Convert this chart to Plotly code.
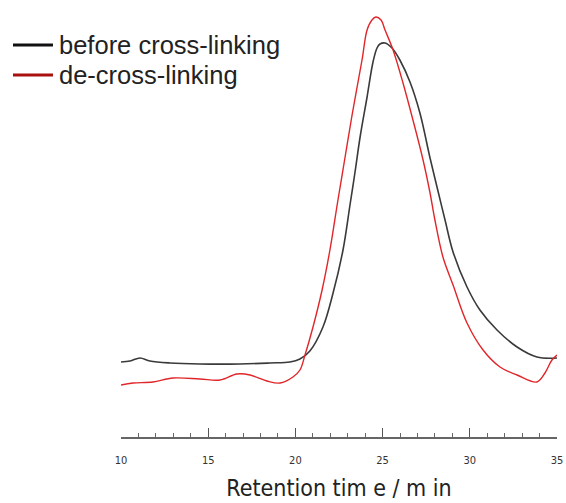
import plotly.graph_objects as go

# Retention time (min) and detector response (arbitrary units)
before_t = [10.00, 10.52, 11.09, 11.66, 12.81, 14.53, 16.82, 18.54, 19.69, 20.26, 20.83, 21.58,
            22.16, 22.73, 23.13, 23.42, 23.71, 24.11, 24.45, 24.68, 24.85, 25.14, 25.54, 25.99,
            26.57, 27.14, 27.72, 28.12, 28.58, 29.04, 29.84, 30.58, 31.56, 32.71, 33.85, 35.00]
before_y = [75, 76, 79, 76, 74, 73, 73, 74, 75, 78, 86, 110,
            144, 187, 232, 265, 300, 340, 375, 389, 393, 394, 389, 377,
            355, 324, 279, 250, 217, 185, 150, 127, 107, 90, 80, 79]

decross_t = [10.00, 10.69, 11.83, 12.98, 14.53, 15.68, 16.65, 17.40, 18.37, 19.12, 19.86, 20.26,
             20.55, 21.01, 21.53, 21.98, 22.44, 22.84, 23.25, 23.82, 24.11, 24.39, 24.62, 24.91,
             25.14, 25.60, 26.17, 26.74, 27.32, 27.72, 28.00, 28.46, 29.04, 29.84, 30.76, 31.73,
             32.71, 33.85, 34.31, 34.71, 35.00]
decross_y = [52, 54, 55, 59, 58, 57, 63, 62, 56, 54, 60, 67,
             82, 110, 147, 187, 237, 279, 322, 377, 407, 417, 420, 417,
             407, 387, 354, 317, 277, 244, 217, 180, 152, 114, 87, 70,
             62, 55, 64, 77, 82]

series_names = ["before cross-linking", "de-cross-linking"]
legend_colors = ["#111111", "#a81010"]
tick_vals = [10, 15, 20, 25, 30, 35]

fig = go.Figure()
fig.add_trace(go.Scatter(x=before_t, y=before_y, mode="lines", name=series_names[0], showlegend=False,
                         line=dict(color="#3a3a3a", width=1.6, shape="spline", smoothing=1.0)))
fig.add_trace(go.Scatter(x=decross_t, y=decross_y, mode="lines", name=series_names[1], showlegend=False,
                         line=dict(color="#e0262a", width=1.4, shape="spline", smoothing=1.0)))

# legend drawn in paper coordinates (left of plot area)
legend_y = [0.9116, 0.8419]
for name, col, ly in zip(series_names, legend_colors, legend_y):
    fig.add_shape(type="line", xref="paper", yref="paper", x0=-0.2477, x1=-0.156, y0=ly, y1=ly,
                  line=dict(color=col, width=3))
    fig.add_annotation(xref="paper", yref="paper", x=-0.147, y=ly, xanchor="left", yanchor="middle",
                       text=name, showarrow=False,
                       font=dict(family="Liberation Sans, Arial", size=25.5, color="#222"))

fig.update_layout(
    width=566, height=503,
    margin=dict(l=121, r=9, t=7, b=66, autoexpand=False),
    plot_bgcolor="white", paper_bgcolor="white",
    showlegend=False,
    xaxis=dict(range=[10, 35], tickvals=tick_vals, ticks="inside", ticklen=9, tickwidth=1,
               tickcolor="#555", showline=True, linecolor="#666", linewidth=1.5,
               showgrid=False, zeroline=False, automargin=False, ticklabeloverflow="allow",
               ticklabelstandoff=12,
               minor=dict(dtick=1, ticks="inside", ticklen=4, tickcolor="#666", showgrid=False),
               tickfont=dict(family="DejaVu Sans Condensed, DejaVu Sans", size=11, color="#333"),
               title=dict(text="Retention tim e / m in", standoff=14,
                          font=dict(family="DejaVu Sans Condensed, DejaVu Sans", size=23, color="#222"))),
    yaxis=dict(range=[0, 430], visible=False),
)

fig.write_html("out.html", config={"displayModeBar": False},
               post_script="document.body.style.margin='0';")
